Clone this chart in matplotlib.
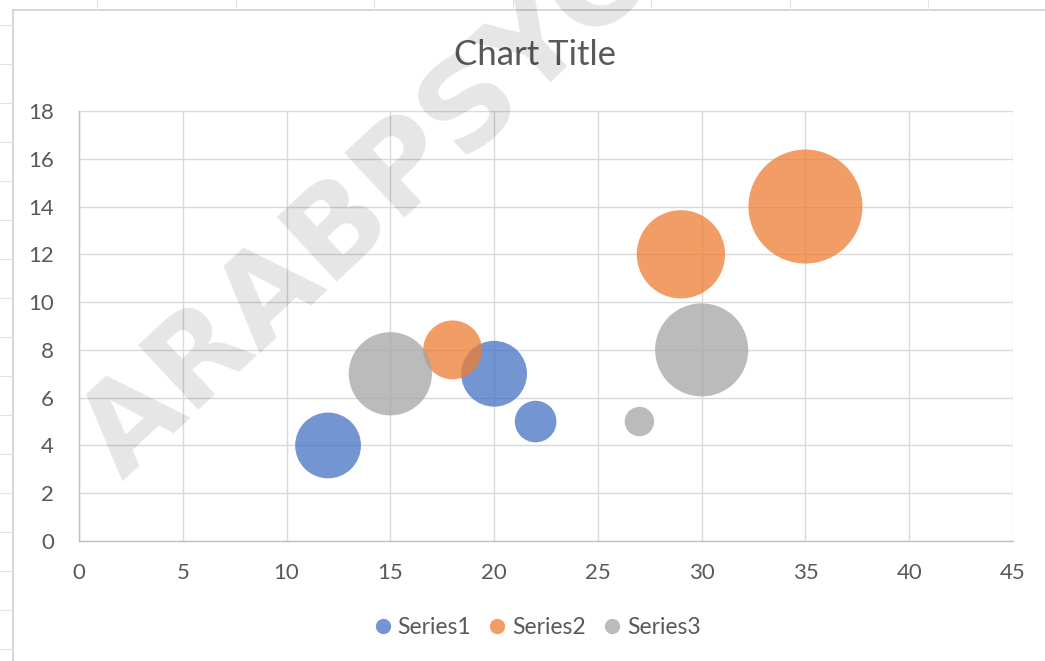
"""
Bubble chart - three series, Excel-like styling
"""

import matplotlib.pyplot as plt
from matplotlib.lines import Line2D

plt.rcParams['font.family'] = ['Lato', 'DejaVu Sans']

# data
series_names = ['Series1', 'Series2', 'Series3']
s1_x = [12, 20, 22]
s1_y = [4, 7, 5]
s1_size = [5, 5, 2]
s2_x = [18, 29, 35]
s2_y = [8, 12, 14]
s2_size = [4, 9, 15]
s3_x = [15, 27, 30]
s3_y = [7, 5, 8]
s3_size = [8, 1, 10]

x_ticks = [0, 5, 10, 15, 20, 25, 30, 35, 40, 45]
y_ticks = [0, 2, 4, 6, 8, 10, 12, 14, 16, 18]

colors = ['#4472C4', '#ED7D31', '#A5A5A5']
text_col = '#595959'
grid_col = '#D9D9D9'

W, H = 1045, 661
fig = plt.figure(figsize=(W / 100, H / 100), dpi=100)

# spreadsheet background lines around the chart area
fig.add_artist(Line2D([13 / W, 1], [1 - 10 / H, 1 - 10 / H], color='#D0D0D0', lw=1.2))
fig.add_artist(Line2D([13 / W, 13 / W], [0, 1 - 10 / H], color='#D0D0D0', lw=1.2))
for px in [97, 236, 374, 513, 651, 790, 928]:
    fig.add_artist(Line2D([px / W, px / W], [1 - 10 / H, 1], color='#E3E3E3', lw=0.8))
for py in range(25, 661, 39):
    fig.add_artist(Line2D([0, 13 / W], [1 - py / H, 1 - py / H], color='#E3E3E3', lw=0.8))

ax = fig.add_axes([79 / W, 1 - 541 / H, (1013 - 79) / W, (541 - 111) / H])

# bubble area proportional to size value (largest ~114 px across)
scale = 449
series = [(s1_x, s1_y, s1_size), (s2_x, s2_y, s2_size), (s3_x, s3_y, s3_size)]
for (xs, ys, ss), col, name in zip(series, colors, series_names):
    ax.scatter(xs, ys, s=[v * scale for v in ss], color=col, alpha=0.75,
               edgecolors='none', label=name, zorder=3)

ax.set_xlim(0, 45)
ax.set_ylim(0, 18)
ax.set_xticks(x_ticks)
ax.set_yticks(y_ticks)
ax.grid(True, color=grid_col, lw=1.0, zorder=0)
ax.set_axisbelow(True)
for side in ['top', 'right']:
    ax.spines[side].set_visible(False)
for side in ['left', 'bottom']:
    ax.spines[side].set_color('#BFBFBF')
    ax.spines[side].set_linewidth(1.0)
ax.tick_params(axis='both', length=0, labelsize=16, colors=text_col)
ax.tick_params(axis='x', pad=16)
ax.tick_params(axis='y', pad=18)

fig.text(535 / W, 1 - 55 / H, 'Chart Title', ha='center', va='center',
         fontsize=25, color=text_col)

handles = [Line2D([], [], marker='o', ls='none', color=c, alpha=0.75, markersize=11,
                  markeredgewidth=0) for c in colors]
fig.legend(handles, series_names, loc='center', bbox_to_anchor=(536 / W, 1 - 628 / H),
           ncol=3, frameon=False, fontsize=16.5, labelcolor=text_col,
           handletextpad=0.15, columnspacing=0.65, handlelength=1.0)

# faint diagonal watermark
fig.text(122 / W, 1 - 482 / H, 'ARABPSYCH', rotation=43, rotation_mode='anchor',
         ha='left', va='baseline', fontsize=88, fontweight='bold',
         color='black', alpha=0.1, family='DejaVu Sans', zorder=10)

fig.savefig('out.png', dpi=100)
